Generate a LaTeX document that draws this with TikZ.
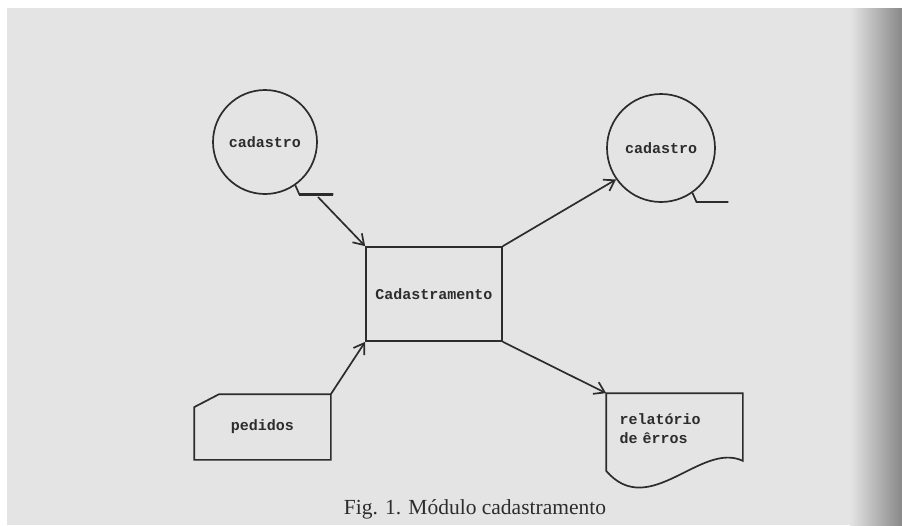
\documentclass[tikz,border=0pt]{standalone}
\usepackage{fontspec}
\setmainfont{Liberation Serif}
\setmonofont{Liberation Mono}
\usetikzlibrary{arrows.meta}
\usetikzlibrary{calc}
\usetikzlibrary{positioning}

\definecolor{papier}{HTML}{E4E4E4}
\definecolor{rand}{HTML}{888888}
\definecolor{tinte}{HTML}{2C2C2C}

\tikzset{
	band/.style={circle,draw,minimum size=104pt,inner sep=0pt},
	karte/.style={rectangle,minimum width=135pt,minimum height=64pt},
	fluss/.style={-{Straight Barb[length=10pt,width=13pt]}},
}

\begin{document}
\begin{tikzpicture}[x=1pt,y=-1pt,line width=1.7pt,color=tinte,font={\ttfamily\bfseries\fontsize{15}{19}\selectfont}]
		\useasboundingbox (0,0) rectangle (902,525);
		\fill[white] (0,0) rectangle (902,525);
		\fill[papier] (7,8) rectangle (902,525);
		\shade[left color=papier,right color=rand] (850,8) rectangle (902,525);
		\path
		(265,142) node[band](cad1) {cadastro}
		(661,148) node[band,minimum size=108pt](cad2) {cadastro}
		(434,294) node[draw,minimum width=136pt,minimum height=94pt](proz) {Cadastramento}
		(262.5,427) node[karte](ped) {pedidos}
		(674.5,429) node[karte,minimum height=70pt,align=left,text width=110pt](rel) {relatório\\de êrros};
		\draw (cad1.-55) -- ++(4,9) -- ++(34,0);
		\draw[line width=2.8pt] (cad1.-55) ++(4,9) -- ++(34,0);
		\draw (cad2.-55) -- ++(4,9) -- ++(32,0);
		\draw[line width=2.8pt] (cad2.-55) ++(4,9) -- ++(32,0);
		\coordinate (aus1) at (318,197);
		\draw ($(ped.north west)+(0,13)$) -- ($(ped.north west)+(25,0)$) -- (ped.north east) -- (ped.south east) -- (ped.south west) -- cycle;
		\draw (rel.north west) -- (rel.north east) -- ($(rel.south east)+(0,-4)$) .. controls +(-42,-20) and +(43,50) .. ($(rel.south west)+(0,6)$) -- cycle;
		\draw[fluss] (aus1) -- (proz.north west);
		\draw[fluss] (proz.north east) -- (cad2.-145);
		\draw[fluss] (ped.north east) -- (proz.south west);
		\draw[fluss] (proz.south east) -- (rel.north west);
		\node[font={\rmfamily\fontsize{21.5}{24}\selectfont}] (titel) at (475,509) {Fig. 1. Módulo cadastramento};
	\end{tikzpicture}
\end{document}
